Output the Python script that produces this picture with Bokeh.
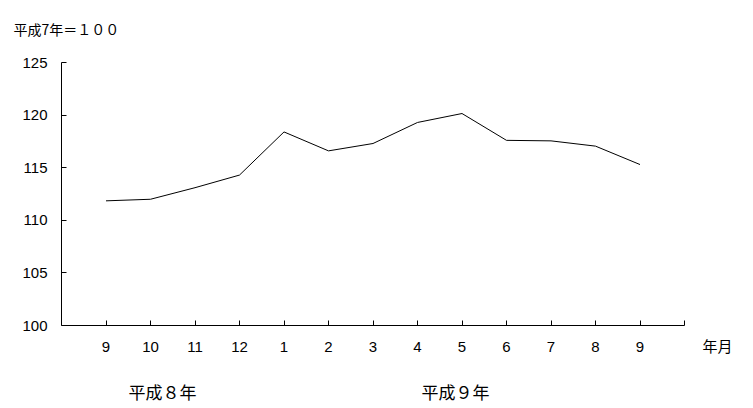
from bokeh.plotting import figure
from bokeh.models import Range1d, FixedTicker
from bokeh.core.properties import value
from bokeh.embed import file_html
from bokeh.resources import INLINE

months = ["9", "10", "11", "12", "1", "2", "3", "4", "5", "6", "7", "8", "9"]
index_values = [111.85, 112.0, 113.1, 114.3, 118.4, 116.6, 117.3, 119.3, 120.15, 117.6, 117.55, 117.05, 115.3]
y_ticks = [100, 105, 110, 115, 120, 125]
title_text = "平成7年＝１００"
unit_text = "年月"
year_labels = ["平成８年", "平成９年"]

xs = list(range(len(months)))
x_lo, x_hi = -1, len(months)
y_lo, y_hi = 100, 125

# pixel layout: axis box from x=61..684, y=62..325 in the canvas
W, H = 745, 406
left_px, right_px, top_px, bottom_px = 61, 684, 62, 325
xs_px = (right_px - left_px) / (x_hi - x_lo)
ys_px = (bottom_px - top_px) / (y_hi - y_lo)

p = figure(width=W, height=H, output_backend="svg", toolbar_location=None,
           x_range=Range1d(x_lo - left_px / xs_px, x_hi + (W - right_px) / xs_px),
           y_range=Range1d(y_lo - (H - bottom_px) / ys_px, y_hi + top_px / ys_px),
           min_border=0)
p.outline_line_color = None
p.xgrid.visible = False
p.ygrid.visible = False
p.background_fill_color = "white"
p.border_fill_color = "white"

p.line(xs, index_values, line_color="black", line_width=1)

tick_font = "Liberation Sans"
xa = p.xaxis[0]
xa.fixed_location = y_lo
xa.bounds = (x_lo, x_hi)
xa.ticker = FixedTicker(ticks=list(range(len(months) + 1)))
overrides = {i: m for i, m in enumerate(months)}
overrides[len(months)] = ""
xa.major_label_overrides = overrides
xa.major_tick_in = 5
xa.major_tick_out = 0
xa.minor_tick_line_color = None
xa.major_label_standoff = 16
xa.major_label_text_font = tick_font
xa.major_label_text_font_size = "15px"
xa.major_label_text_color = "black"
xa.axis_line_color = "black"

ya = p.yaxis[0]
ya.fixed_location = x_lo
ya.bounds = (y_lo, y_hi)
ya.ticker = FixedTicker(ticks=y_ticks)
ya.major_tick_in = 5
ya.major_tick_out = 0
ya.minor_tick_line_color = None
ya.major_label_standoff = 14
ya.major_label_text_font = tick_font
ya.major_label_text_font_size = "15px"
ya.major_label_text_color = "black"
ya.axis_line_color = "black"

jp_font = value("Noto Sans CJK JP")

def add_text(t, px_x, px_y, align, size):
    p.text(x=[x_lo + (px_x - left_px) / xs_px], y=[y_lo + (bottom_px - px_y) / ys_px],
           text=[t], text_font=jp_font, text_font_size=size, text_align=align,
           text_baseline="middle", text_color="black")

add_text(title_text, 13, 28, "left", "14px")
add_text(unit_text, 717, 345, "center", "15px")
add_text(year_labels[0], 162, 391, "center", "17px")
add_text(year_labels[1], 455, 391, "center", "17px")

open("out.html", "w").write(file_html(p, INLINE))
